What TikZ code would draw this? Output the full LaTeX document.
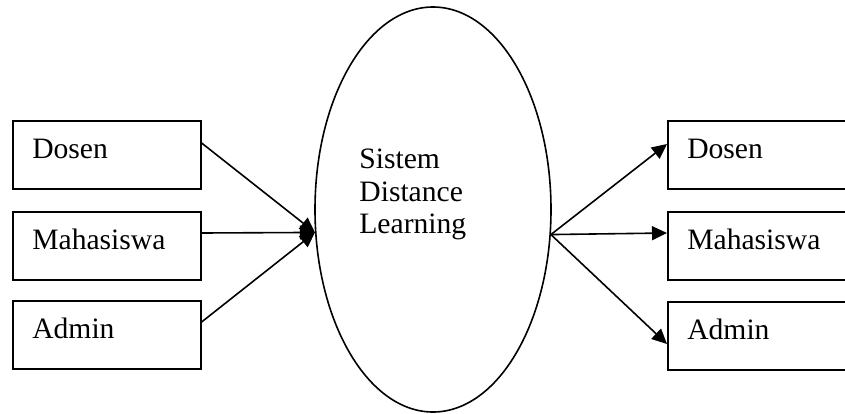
\documentclass[tikz,border=0pt]{standalone}
\usepackage{fontspec}
\setmainfont{Liberation Serif}
\usetikzlibrary{arrows.meta,shapes.geometric,calc}
\begin{document}
\begin{tikzpicture}[x=0.5pt,y=-0.5pt,
  every node/.style={font=\fontsize{14.8}{16.25}\selectfont},
  actor/.style={draw, line width=0.8pt, anchor=north west, inner xsep=9.75pt, inner ysep=0pt, text height=19pt, text depth=15pt, align=left},
  lbox/.style={actor, text width=74.5pt},
  rbox/.style={actor, text width=80pt},
  flow/.style={line width=0.8pt, -{Triangle[length=7.5pt,width=7pt]}}]
\useasboundingbox (0,0) rectangle (845,413);
\clip (0,0) rectangle (845,413);
% left boxes
\node[lbox] (ld) at (12,120) {Dosen};
\node[lbox] (lm) at (12,211) {Mahasiswa};
\node[lbox] (la) at (12,300) {Admin};
% right boxes
\node[rbox] (rd) at (667,120) {Dosen};
\node[rbox] (rm) at (667,211) {Mahasiswa};
\node[rbox] (ra) at (667,301) {Admin};
% system
\node[ellipse, draw, line width=0.8pt, minimum width=118pt, minimum height=202.5pt, inner sep=0pt] (sys) at (433,209.5) {};
\node[anchor=north west, inner sep=0pt, align=left] (lbl) at (359,148.7) {Sistem\\Distance\\Learning};
% flows in
\draw[flow] ($(ld.north east)+(0,23)$) -- (sys.191.4);
\draw[flow] ($(lm.north east)+(0,22)$) -- (sys.191.4);
\draw[flow] ($(la.north east)+(0,22)$) -- (sys.191.4);
% flows out
\draw[flow] (sys.348.6) -- ($(rd.north west)+(0,24)$);
\draw[flow] (sys.348.6) -- ($(rm.north west)+(0,22)$);
\draw[flow] (sys.348.6) -- ($(ra.north west)+(0,43)$);
\end{tikzpicture}
\end{document}
